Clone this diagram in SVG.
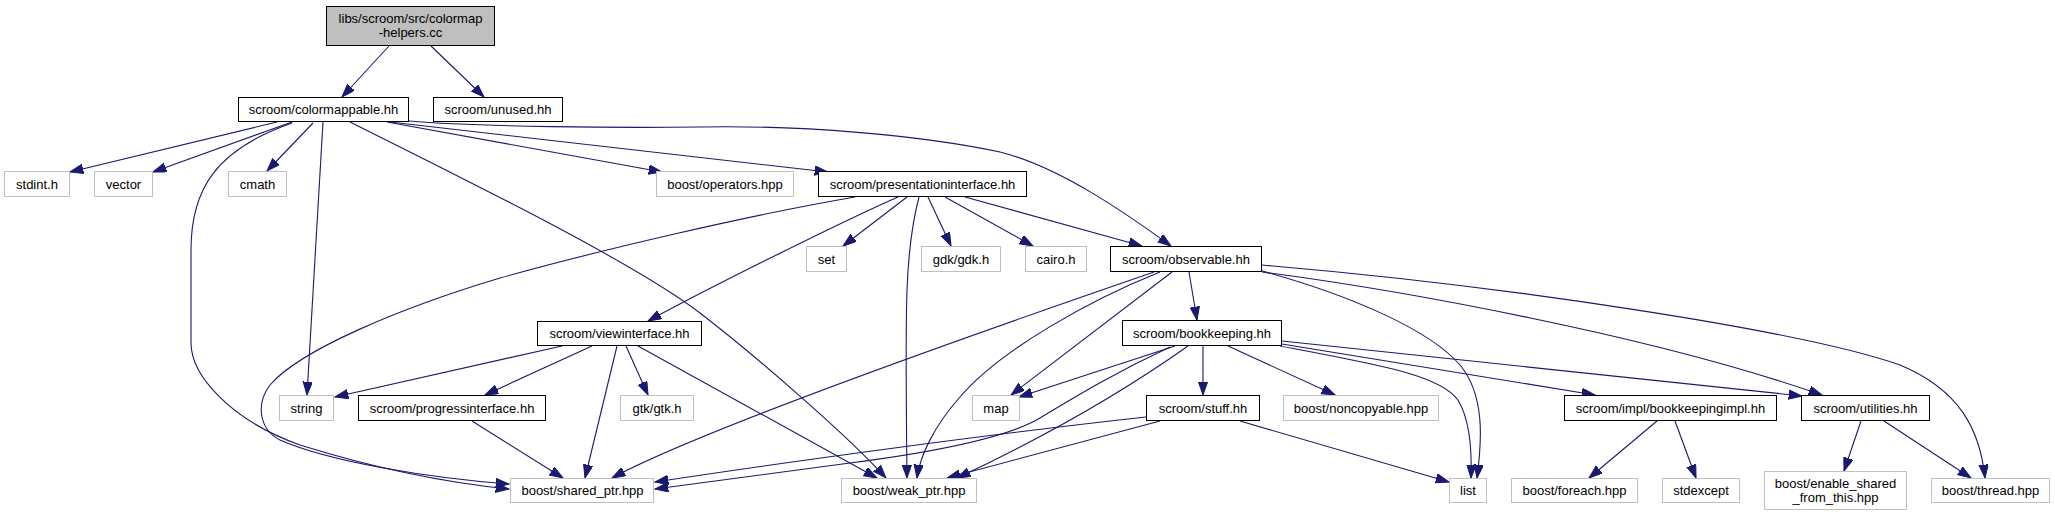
<svg xmlns="http://www.w3.org/2000/svg" width="2055" height="517" viewBox="0 0 2055 517">
<style>
.n rect{fill:#fff;stroke:#000;stroke-width:1}
.x rect{fill:#fff;stroke:#bfbfbf;stroke-width:1}
#n-root rect{fill:#bfbfbf}
text{font-family:"Liberation Sans",Arial,Helvetica,sans-serif;font-size:13px;text-anchor:middle;fill:#000}
#edges path{fill:none;stroke:#191970;stroke-width:1.1;marker-end:url(#arr)}
</style>
<defs>
<marker id="arr" markerUnits="userSpaceOnUse" markerWidth="15" markerHeight="11" refX="13.3" refY="4.7" orient="auto" viewBox="0 0 15 11">
<path d="M0,0 L13.3,4.7 L0,9.4 Z" fill="#191970" stroke="#191970" stroke-width="1"/>
</marker>
</defs>
<rect x="0" y="0" width="2055" height="517" fill="#fff"/>
<g id="edges">
<path d="M389,46 L342,97"/>
<path d="M431,46 L484,97"/>
<path d="M277,122 L70,172"/>
<path d="M292,122 L153,172"/>
<path d="M313,123 L267,171"/>
<path d="M292,123 C215,150 191,190 191,250 L191,343 C191,375 230,420 300,445 C380,470 450,483 509,489"/>
<path d="M323,122 L307,395"/>
<path d="M350,122 C470,182 635,263 700,313 C752,353 845,433 886,478"/>
<path d="M387,122 L662,172"/>
<path d="M390,122 L828,172"/>
<path d="M409,121 C480,127 620,128 700,127 C800,125 920,135 1000,152 C1060,167 1127,214 1171,246"/>
<path d="M855,197 C750,215 600,250 500,278 C400,308 300,350 270,385 C255,405 260,430 280,440 C330,462 430,478 509,484"/>
<path d="M898,197 C850,218 720,282 648,321"/>
<path d="M907,197 L843,246"/>
<path d="M919,197 C905,250 905,300 907,478"/>
<path d="M928,197 L951,246"/>
<path d="M945,197 L1033,246"/>
<path d="M965,197 L1142,246"/>
<path d="M562,346 L335,397"/>
<path d="M592,346 L485,395"/>
<path d="M617,346 L585,478"/>
<path d="M626,346 L648,395"/>
<path d="M638,346 L877,478"/>
<path d="M472,421 L563,478"/>
<path d="M1189,272 L1197,320"/>
<path d="M1172,272 L1011,395"/>
<path d="M1154,272 C1000,325 700,430 612,478"/>
<path d="M1160,272 C1090,300 1000,350 960,397 C935,425 920,455 917,478"/>
<path d="M1262,271 C1350,295 1430,330 1460,365 C1485,395 1482,440 1477,478"/>
<path d="M1262,272 C1400,290 1650,335 1822,395"/>
<path d="M1262,265 C1500,285 1800,330 1900,365 C1960,390 1980,430 1985,478"/>
<path d="M1203,346 L1203,395"/>
<path d="M1228,346 L1335,395"/>
<path d="M1175,346 L1019,397"/>
<path d="M1170,347 C1110,375 1070,400 1040,418 C1010,436 950,450 850,463 C760,475 700,483 655,489"/>
<path d="M1188,346 C1140,380 1070,425 957,478"/>
<path d="M1280,346 C1380,365 1440,375 1458,400 C1470,420 1472,450 1471,478"/>
<path d="M1282,344 L1595,395"/>
<path d="M1282,341 L1802,396"/>
<path d="M1146,417 C1000,433 800,460 655,482"/>
<path d="M1160,421 L947,478"/>
<path d="M1240,421 L1449,482"/>
<path d="M1657,421 L1589,478"/>
<path d="M1675,421 L1696,478"/>
<path d="M1861,421 L1844,471"/>
<path d="M1884,421 L1971,478"/>
</g>
<g id="n-root" class="n"><rect x="326.5" y="6.5" width="168" height="39"/><text x="410.5" y="23">libs/scroom/src/colormap</text><text x="410.5" y="37">-helpers.cc</text></g>
<g id="n-colormappable" class="n"><rect x="238.5" y="97.5" width="170" height="24"/><text x="323.5" y="114">scroom/colormappable.hh</text></g>
<g id="n-unused" class="n"><rect x="433.5" y="97.5" width="129" height="24"/><text x="498" y="114">scroom/unused.hh</text></g>
<g id="n-stdint" class="x"><rect x="4.5" y="171.5" width="65" height="25"/><text x="37" y="188.5">stdint.h</text></g>
<g id="n-vector" class="x"><rect x="94.5" y="171.5" width="58" height="25"/><text x="123.5" y="188.5">vector</text></g>
<g id="n-cmath" class="x"><rect x="228.5" y="171.5" width="58" height="25"/><text x="257.5" y="188.5">cmath</text></g>
<g id="n-operators" class="x"><rect x="656.5" y="171.5" width="137" height="25"/><text x="725" y="188.5">boost/operators.hpp</text></g>
<g id="n-presentation" class="n"><rect x="818.5" y="171.5" width="208" height="25"/><text x="922.5" y="188.5">scroom/presentationinterface.hh</text></g>
<g id="n-set" class="x"><rect x="806.5" y="246.5" width="40" height="25"/><text x="826.5" y="263.5">set</text></g>
<g id="n-gdk" class="x"><rect x="921.5" y="246.5" width="79" height="25"/><text x="961" y="263.5">gdk/gdk.h</text></g>
<g id="n-cairo" class="x"><rect x="1025.5" y="246.5" width="61" height="25"/><text x="1056" y="263.5">cairo.h</text></g>
<g id="n-observable" class="n"><rect x="1110.5" y="246.5" width="151" height="25"/><text x="1186" y="263.5">scroom/observable.hh</text></g>
<g id="n-viewinterface" class="n"><rect x="537.5" y="321.5" width="164" height="24"/><text x="619.5" y="338">scroom/viewinterface.hh</text></g>
<g id="n-bookkeeping" class="n"><rect x="1122.5" y="320.5" width="159" height="25"/><text x="1202" y="338">scroom/bookkeeping.hh</text></g>
<g id="n-string" class="x"><rect x="279.5" y="395.5" width="54" height="25"/><text x="306.5" y="412.5">string</text></g>
<g id="n-progress" class="n"><rect x="358.5" y="395.5" width="187" height="25"/><text x="452" y="412.5">scroom/progressinterface.hh</text></g>
<g id="n-gtk" class="x"><rect x="620.5" y="395.5" width="73" height="25"/><text x="657" y="412.5">gtk/gtk.h</text></g>
<g id="n-map" class="x"><rect x="972.5" y="395.5" width="47" height="25"/><text x="996" y="412.5">map</text></g>
<g id="n-stuff" class="n"><rect x="1146.5" y="395.5" width="113" height="25"/><text x="1203" y="412.5">scroom/stuff.hh</text></g>
<g id="n-noncopyable" class="x"><rect x="1283.5" y="395.5" width="155" height="25"/><text x="1361" y="412.5">boost/noncopyable.hpp</text></g>
<g id="n-bookkeepingimpl" class="n"><rect x="1564.5" y="395.5" width="212" height="25"/><text x="1670.5" y="412.5">scroom/impl/bookkeepingimpl.hh</text></g>
<g id="n-utilities" class="n"><rect x="1801.5" y="395.5" width="128" height="25"/><text x="1865.5" y="412.5">scroom/utilities.hh</text></g>
<g id="n-shared_ptr" class="x"><rect x="510.5" y="478.5" width="143" height="24"/><text x="582.5" y="495">boost/shared_ptr.hpp</text></g>
<g id="n-weak_ptr" class="x"><rect x="841.5" y="478.5" width="135" height="24"/><text x="909" y="495">boost/weak_ptr.hpp</text></g>
<g id="n-list" class="x"><rect x="1449.5" y="478.5" width="37" height="24"/><text x="1468" y="495">list</text></g>
<g id="n-foreach" class="x"><rect x="1511.5" y="478.5" width="126" height="24"/><text x="1574.5" y="495">boost/foreach.hpp</text></g>
<g id="n-stdexcept" class="x"><rect x="1662.5" y="478.5" width="77" height="24"/><text x="1701" y="495">stdexcept</text></g>
<g id="n-enable_shared" class="x"><rect x="1764.5" y="471.5" width="142" height="38"/><text x="1835.5" y="488">boost/enable_shared</text><text x="1835.5" y="502">_from_this.hpp</text></g>
<g id="n-thread" class="x"><rect x="1931.5" y="478.5" width="118" height="24"/><text x="1990.5" y="495">boost/thread.hpp</text></g>
</svg>
